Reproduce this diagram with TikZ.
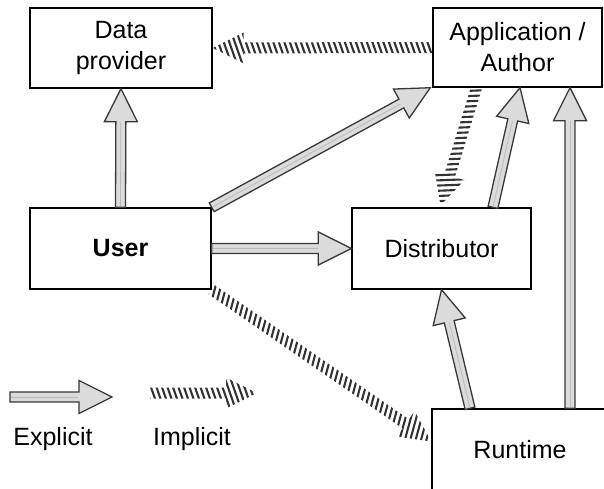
\documentclass[tikz,border=0pt]{standalone}
\usepackage{fontspec}
\setmainfont{Liberation Sans}
\usetikzlibrary{calc}

\tikzset{
  box/.style={draw=black, line width=1.4pt, fill=white, inner sep=0pt,
    align=center, font=\fontsize{25}{31}\selectfont},
  legendtext/.style={inner sep=0pt, font=\fontsize{25}{30}\selectfont},
  explicitbody/.style={draw=black!78, line width=1.3pt, fill=gray!28, line join=miter},
  hatchline/.style={draw=black!80, line width=2.1pt},
}

% Local frame of an arrow from #1 to #2: origin at #1, x axis towards #2
\newcommand\arrowframe[2]{%
  \coordinate (af-a) at (#1);
  \coordinate (af-b) at (#2);
  \pgfpointdiff{\pgfpointanchor{af-a}{center}}{\pgfpointanchor{af-b}{center}}%
  \pgfgetlastxy{\afx}{\afy}%
  \pgfmathsetmacro\arrang{atan2(\afy,\afx)}%
  \pgfmathsetmacro\arrlen{veclen(\afx,\afy)}%
}

% Hollow grey block arrow
\newcommand\explicitarrow[2]{%
  \arrowframe{#1}{#2}%
  \begin{scope}[shift={(af-a)}, rotate=\arrang]
    \draw[explicitbody] (0,-5) -- (\arrlen-33,-5) -- (\arrlen-33,-16.5)
      -- (\arrlen,0) -- (\arrlen-33,16.5) -- (\arrlen-33,5) -- (0,5) -- cycle;
    \draw[gray!55, line width=0.8pt] (1,0) -- (\arrlen-33.7,0);
  \end{scope}}

% Hatched block arrow
\newcommand\implicitarrow[2]{%
  \arrowframe{#1}{#2}%
  \begin{scope}[shift={(af-a)}, rotate=\arrang]
    \clip (0,-5.5) -- (\arrlen-31,-5.5) -- (\arrlen-31,-15.5)
      -- (\arrlen,0) -- (\arrlen-31,15.5) -- (\arrlen-31,5.5) -- (0,5.5) -- cycle;
    \foreach \t in {-8,-2.5,...,\arrlen} {
      \draw[hatchline] (\t-7,-20) -- (\t+7,20);
    }
  \end{scope}}

\begin{document}
\begin{tikzpicture}[x=1pt, y=-1pt]
  \useasboundingbox (0,0) rectangle (604,489);

  % boxes
  \node[box, minimum width=182pt, minimum height=80pt] (dp)   at (121,48)    {Data\\provider};
  \node[box, minimum width=169pt, minimum height=79pt] (app)  at (517.5,47.5) {Application /\\Author};
  \node[box, minimum width=181pt, minimum height=81pt] (user) at (120.5,248.5) {\textbf{User}};
  \node[box, minimum width=179pt, minimum height=81pt] (dist) at (441.5,248.5) {Distributor};
  \node[box, minimum width=176pt, minimum height=81pt] (run)  at (520,449.5) {Runtime};

  % explicit connections
  \explicitarrow{user.north}{dp.south}
  \explicitarrow{user.north east}{[xshift=-2pt]app.south west}
  \explicitarrow{user.east}{dist.west}
  \explicitarrow{[xshift=51.5pt]dist.north}{[xshift=2.5pt]app.south}
  \explicitarrow{[xshift=50pt]run.north}{[xshift=52.5pt]app.south}
  \explicitarrow{[xshift=-50pt]run.north}{dist.south}

  % implicit connections
  \implicitarrow{app.west}{dp.east}
  \implicitarrow{[xshift=-41pt]app.south}{[xshift=-1pt, yshift=2pt]dist.north}
  \implicitarrow{user.south east}{[yshift=8pt]run.west}

  % legend
  \coordinate (exa) at (10,397);
  \coordinate (exb) at (112,397);
  \coordinate (ima) at (150,393);
  \coordinate (imb) at (257,393);
  \explicitarrow{exa}{exb}
  \implicitarrow{ima}{imb}
  \node[legendtext] (exlabel) at (53,439) {Explicit};
  \node[legendtext] (imlabel) at (192,439) {Implicit};
\end{tikzpicture}
\end{document}
